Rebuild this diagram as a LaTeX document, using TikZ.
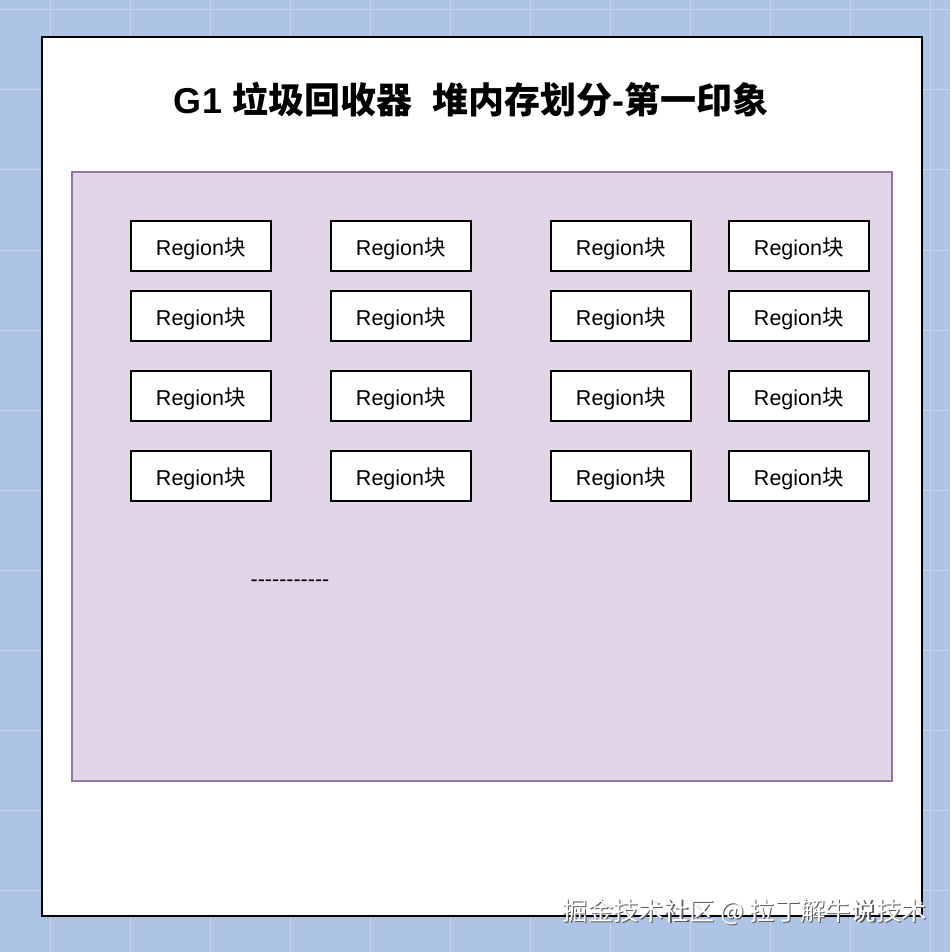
\documentclass[tikz,border=0pt]{standalone}
\usepackage{fontspec}
\setmainfont{Liberation Sans}
\newfontfamily\cjk{Noto Sans CJK SC}
\newfontfamily\cjkb{Noto Sans CJK SC Bold}
\definecolor{bgblue}{HTML}{AEC4E6}
\definecolor{gridline}{HTML}{C8D7EF}
\definecolor{purplefill}{HTML}{E1D5E7}
\definecolor{purpleline}{HTML}{9673A6}
\tikzset{
  regionbox/.style={draw=black, line width=1.6pt, fill=white, minimum width=140pt, minimum height=50pt, anchor=north west, inner sep=0pt, font=\fontsize{21.5}{24}\selectfont},
}
\newcommand{\reg}{\raisebox{-9.5pt}[0pt][0pt]{Region{\cjk 块}}}
\newcommand{\hy}{-\kern0pt}
\begin{document}
\begin{tikzpicture}[x=1pt,y=-1pt]
\fill[bgblue] (0,0) rectangle (950,952);
\useasboundingbox (0,0) rectangle (950,952);
\foreach \gx in {50,130,...,930} \draw[gridline, line width=1pt] (\gx,0) -- (\gx,952);
\foreach \gy in {10,90,...,930} \draw[gridline, line width=1pt] (0,\gy) -- (950,\gy);
\node[draw=black, line width=2pt, fill=white, anchor=north west, minimum width=880pt, minimum height=879pt, inner sep=0pt] (outer) at (41,36) {};
\node[font=\fontsize{36}{40}\selectfont\bfseries, anchor=center] (title) at (471,100) {G1 {\cjkb 垃圾回收器}\ \ {\cjkb 堆内存划分}-{\cjkb 第一印象}};
\node[draw=purpleline, line width=1.6pt, fill=purplefill, anchor=north west, minimum width=820pt, minimum height=609pt, inner sep=0pt] (heap) at (71,171) {};
\foreach \cx [count=\i] in {130,330,550,728} {
  \foreach \ry [count=\j] in {220,290,370,450} {
    \node[regionbox] (r\i\j) at (\cx,\ry) {\reg};
  }
}
\node[font=\fontsize{21.5}{24}\selectfont, anchor=center] (dots) at (290,583) {\hy\hy\hy\hy\hy\hy\hy\hy\hy\hy\hy};
\node[font=\cjk\fontsize{25.3}{28}\selectfont, text=gray!70!black, anchor=center] (wmshadow) at (746,913) {掘金技术社区 @ 拉丁解牛说技术};
\node[font=\cjk\fontsize{25.3}{28}\selectfont, text=white, anchor=center] (wm) at (744.8,911.8) {掘金技术社区 @ 拉丁解牛说技术};
\end{tikzpicture}
\end{document}
